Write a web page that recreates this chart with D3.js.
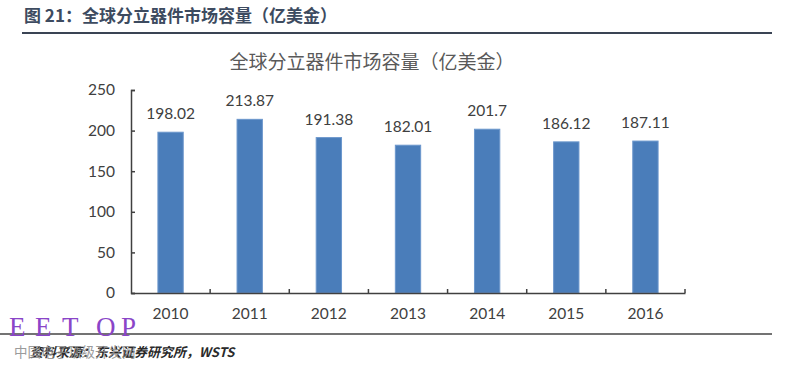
<!DOCTYPE html>
<html><head><meta charset="utf-8">
<script src="https://cdn.jsdelivr.net/npm/d3@7/dist/d3.min.js"></script>
<style>
html,body{margin:0;padding:0;background:#fff;}
svg{display:block;}
</style></head>
<body>
<svg id="c" width="788" height="365"></svg>
<script>
const years = ["2010","2011","2012","2013","2014","2015","2016"];
const values = [198.02, 213.87, 191.38, 182.01, 201.7, 186.12, 187.11];
const valueLabels = ["198.02","213.87","191.38","182.01","201.7","186.12","187.11"];
const yTicks = [0, 50, 100, 150, 200, 250];
const headerText = "图 21：全球分立器件市场容量（亿美金）";
const titleText = "全球分立器件市场容量（亿美金）";
const sourceText = "资料来源：东兴证券研究所，WSTS";
const watermarkText = "中国电子顶级开发网";
const logoLetters = ["E","E","T","O","P"];

const svg = d3.select("#c");
const numFont = "Lato, 'Open Sans', sans-serif";
const cjkFont = "'Noto Sans CJK SC', sans-serif";

// header
svg.append("text").attr("x", 24).attr("y", 22)
  .attr("font-family", cjkFont).attr("font-weight", "bold").attr("font-size", 17)
  .attr("fill", "#3d4b60").text(headerText);
svg.append("line").attr("x1", 22).attr("x2", 772).attr("y1", 33).attr("y2", 33)
  .attr("stroke", "#3a4454").attr("stroke-width", 2);

// chart title
svg.append("text").attr("x", 372).attr("y", 69).attr("text-anchor", "middle")
  .attr("font-family", cjkFont).attr("font-size", 19).attr("fill", "#595959")
  .text(titleText);

const x = d3.scaleBand().domain(years).range([131, 685]).paddingInner(0.68).paddingOuter(0.34);
const y = d3.scaleLinear().domain([0, 250]).range([293, 90]);

// bars
svg.append("g").selectAll("rect").data(values).join("rect")
  .attr("x", (d, i) => x(years[i]))
  .attr("width", x.bandwidth())
  .attr("y", d => y(d))
  .attr("height", d => y(0) - y(d))
  .attr("fill", "#4a7dba")
  .attr("stroke", "#6c97cc").attr("stroke-width", 1);

// value labels
svg.append("g").selectAll("text").data(values).join("text")
  .attr("x", (d, i) => x(years[i]) + x.bandwidth() / 2)
  .attr("y", d => y(d) - 13)
  .attr("text-anchor", "middle")
  .attr("font-family", numFont).attr("font-size", 15.5).attr("fill", "#404040")
  .text((d, i) => valueLabels[i]);

// y axis
const yAxis = d3.axisLeft(y).tickValues(yTicks).tickSize(-4).tickPadding(16);
const gy = svg.append("g").attr("transform", "translate(131,0)").call(yAxis);
gy.select(".domain").attr("stroke", "#404040").attr("stroke-width", 1.5);
gy.selectAll(".tick line").attr("stroke", "#404040").attr("stroke-width", 1.5);
gy.selectAll(".tick text").attr("font-family", numFont).attr("font-size", 15.5).attr("fill", "#404040");

// x axis
const xAxis = d3.axisBottom(x).tickSize(0).tickPadding(15);
const gx = svg.append("g").attr("transform", "translate(0,293)").call(xAxis);
gx.select(".domain").attr("stroke", "#404040").attr("stroke-width", 1.5);
gx.selectAll(".tick text").attr("font-family", numFont).attr("font-size", 15.5).attr("fill", "#404040");
// boundary tick marks pointing up
const step = x.step();
const bounds = d3.range(years.length + 1).map(i => x.range()[0] + i * step);
gx.selectAll(".btick").data(bounds.slice(1)).join("line").attr("class", "btick")
  .attr("x1", d => d).attr("x2", d => d).attr("y1", 0).attr("y2", -4)
  .attr("stroke", "#404040").attr("stroke-width", 1.5);

// bottom rule
svg.append("line").attr("x1", 0).attr("x2", 772).attr("y1", 334).attr("y2", 334)
  .attr("stroke", "#444").attr("stroke-width", 1.5);

// logo watermark
const logoX = [9, 35, 62, 96, 121];
svg.append("g").selectAll("text").data(logoLetters).join("text")
  .attr("x", (d, i) => logoX[i]).attr("y", 336)
  .attr("font-family", "'Liberation Serif', serif").attr("font-size", 27)
  .attr("fill", "#8a45c8").text(d => d);

// source
svg.append("text").attr("x", 30).attr("y", 357)
  .attr("font-family", cjkFont).attr("font-weight", "bold").attr("font-style", "italic")
  .attr("font-size", 13).attr("fill", "#2a2a2a")
  .text(sourceText);
svg.append("text").attr("x", 14).attr("y", 357)
  .attr("font-family", cjkFont).attr("font-size", 13.5).attr("fill", "#8a8a8a").attr("opacity", 0.85)
  .text(watermarkText);
</script>
</body></html>
